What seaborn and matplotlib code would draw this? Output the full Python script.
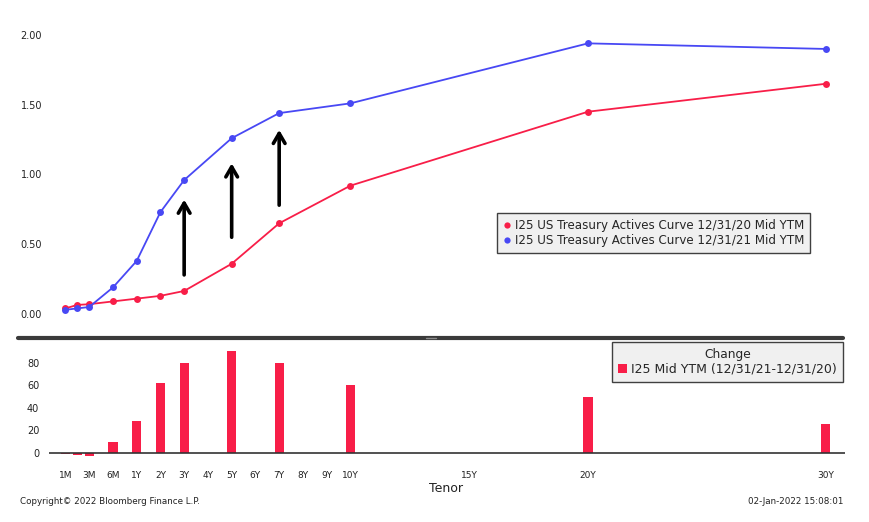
import matplotlib
matplotlib.use("Agg")
import matplotlib.pyplot as plt
from matplotlib.lines import Line2D
from matplotlib.patches import Patch
import seaborn as sns
import pandas as pd

# ---- data ----
tenors = ["1M", "2M", "3M", "6M", "1Y", "2Y", "3Y", "5Y", "7Y", "10Y", "20Y", "30Y"]
tenor_pos = [-2, -1.5, -1, 0, 1, 2, 3, 5, 7, 10, 20, 30]
ytm_2020 = [0.04, 0.065, 0.07, 0.09, 0.11, 0.13, 0.165, 0.36, 0.65, 0.92, 1.45, 1.65]
ytm_2021 = [0.03, 0.04, 0.05, 0.19, 0.38, 0.73, 0.96, 1.26, 1.44, 1.51, 1.94, 1.90]
change_bp = [-1, -2, -3, 10, 28, 62, 80, 91, 80, 60, 50, 26]

tick_labels = ["1M", "3M", "6M", "1Y", "2Y", "3Y", "4Y", "5Y", "6Y", "7Y", "8Y", "9Y",
               "10Y", "15Y", "20Y", "30Y"]
tick_pos = [-2, -1, 0, 1, 2, 3, 4, 5, 6, 7, 8, 9, 10, 15, 20, 30]

label_2020 = "I25 US Treasury Actives Curve 12/31/20 Mid YTM"
label_2021 = "I25 US Treasury Actives Curve 12/31/21 Mid YTM"
label_chg = "I25 Mid YTM (12/31/21-12/31/20)"

# arrow annotations (x position, tail y, head y)
arrow_x = [3, 5, 7]
arrow_tail = [0.28, 0.55, 0.78]
arrow_head = [0.82, 1.08, 1.32]

RED = "#F81E48"
BLUE = "#4848F4"
TXT = "#222222"

sns.set_theme(style="white")
plt.rcParams["font.family"] = ["DejaVu Sans"]

W, H = 870, 522
fig = plt.figure(figsize=(W / 100, H / 100), dpi=100)
fig.patch.set_facecolor("white")

def fx(px):
    return px / W

def fy(py):
    return 1 - py / H

xl = (-2.69, 30.82)
left, right = 49, 845

# ---- top panel ----
ax1 = fig.add_axes([fx(left), fy(337), fx(right - left), (337 - 5) / H])
df20 = pd.DataFrame({"pos": tenor_pos, "ytm": ytm_2020})
df21 = pd.DataFrame({"pos": tenor_pos, "ytm": ytm_2021})
sns.lineplot(data=df20, x="pos", y="ytm", ax=ax1, color=RED, lw=1.3,
             marker="o", markersize=5, markeredgewidth=0)
sns.lineplot(data=df21, x="pos", y="ytm", ax=ax1, color=BLUE, lw=1.3,
             marker="o", markersize=5, markeredgewidth=0)
ax1.set_xlim(*xl)
ax1.set_ylim(-0.165, 2.215)
ax1.set_yticks([0, 0.5, 1.0, 1.5, 2.0])
ax1.set_yticklabels([f"{v:.2f}" for v in [0, 0.5, 1.0, 1.5, 2.0]], fontsize=7, color=TXT)
ax1.set_xticks([])
ax1.set_xlabel("")
ax1.set_ylabel("")
ax1.tick_params(axis="y", length=0, pad=5)
for s in ax1.spines.values():
    s.set_visible(False)
ax1.patch.set_alpha(0)

for x, t, h in zip(arrow_x, arrow_tail, arrow_head):
    ax1.annotate("", xy=(x, h), xytext=(x, t),
                 arrowprops=dict(arrowstyle="->,head_length=0.6,head_width=0.35",
                                 color="black", lw=2.6, shrinkA=0, shrinkB=0))

handles1 = [Line2D([], [], ls="none", marker="o", markersize=4.5, color=RED, markeredgewidth=0),
            Line2D([], [], ls="none", marker="o", markersize=4.5, color=BLUE, markeredgewidth=0)]
leg1 = ax1.legend(handles1, [label_2020, label_2021], loc="upper left",
                  bbox_to_anchor=(fx(497), fy(213)), bbox_transform=fig.transFigure,
                  borderaxespad=0, fontsize=8.6, frameon=True, fancybox=False,
                  handlelength=0.6, handletextpad=0.4, labelspacing=0.15,
                  borderpad=0.5)
leg1.get_frame().set_facecolor("#F0F0F0")
leg1.get_frame().set_edgecolor("#404040")
leg1.get_frame().set_linewidth(1.0)
leg1.get_frame().set_alpha(1)

# ---- bottom panel ----
ax2 = fig.add_axes([fx(left), fy(465), fx(right - left), (465 - 339) / H])
dfc = pd.DataFrame({"pos": tenor_pos, "chg": change_bp})
sns.barplot(data=dfc, x="pos", y="chg", ax=ax2, native_scale=True, width=0.78,
            color=RED, saturation=1, linewidth=0)
ax2.set_xlim(*xl)
ax2.set_ylim(-10.7, 101.3)
ax2.axhline(0, color="#333333", lw=1.2, zorder=5)
ax2.set_yticks([0, 20, 40, 60, 80])
ax2.set_yticklabels(["0", "20", "40", "60", "80"], fontsize=7, color=TXT)
ax2.set_xticks(tick_pos)
ax2.set_xticklabels(tick_labels, fontsize=6.5, color=TXT)
ax2.tick_params(axis="both", length=0)
ax2.tick_params(axis="y", pad=7)
ax2.tick_params(axis="x", pad=4)
ax2.set_ylabel("")
ax2.set_xlabel("")
for s in ax2.spines.values():
    s.set_visible(False)
ax2.patch.set_alpha(0)

handles2 = [Patch(facecolor=RED, edgecolor="none")]
leg2 = ax2.legend(handles2, [label_chg], title="Change", loc="upper left",
                  bbox_to_anchor=(fx(612), fy(342)), bbox_transform=fig.transFigure,
                  borderaxespad=0, fontsize=9, title_fontsize=8.8, frameon=True,
                  fancybox=False, handlelength=0.7, handleheight=0.7,
                  handletextpad=0.3, borderpad=0.5, labelspacing=0.1)
leg2.get_frame().set_facecolor("#F0F0F0")
leg2.get_frame().set_edgecolor("#404040")
leg2.get_frame().set_linewidth(1.0)
leg2.get_frame().set_alpha(1)

# separator bar
fig.add_artist(Line2D([fx(18), fx(843)], [fy(337.5), fy(337.5)], color="#3A3A3A", lw=3.0))
fig.add_artist(Line2D([fx(426), fx(436)], [fy(337.5), fy(337.5)], color="#8A8A8A", lw=1.0))

# labels / footer
fig.text(fx(446), fy(488), "Tenor", fontsize=9, color="#222222", ha="center", va="center")
fig.text(fx(20), fy(502), "Copyright\u00a9 2022 Bloomberg Finance L.P.", fontsize=6.3,
         color="#222222", ha="left", va="center")
fig.text(fx(843), fy(502), "02-Jan-2022 15:08:01", fontsize=6.3, color="#222222",
         ha="right", va="center")

fig.savefig("out.png", dpi=100, facecolor="white")
